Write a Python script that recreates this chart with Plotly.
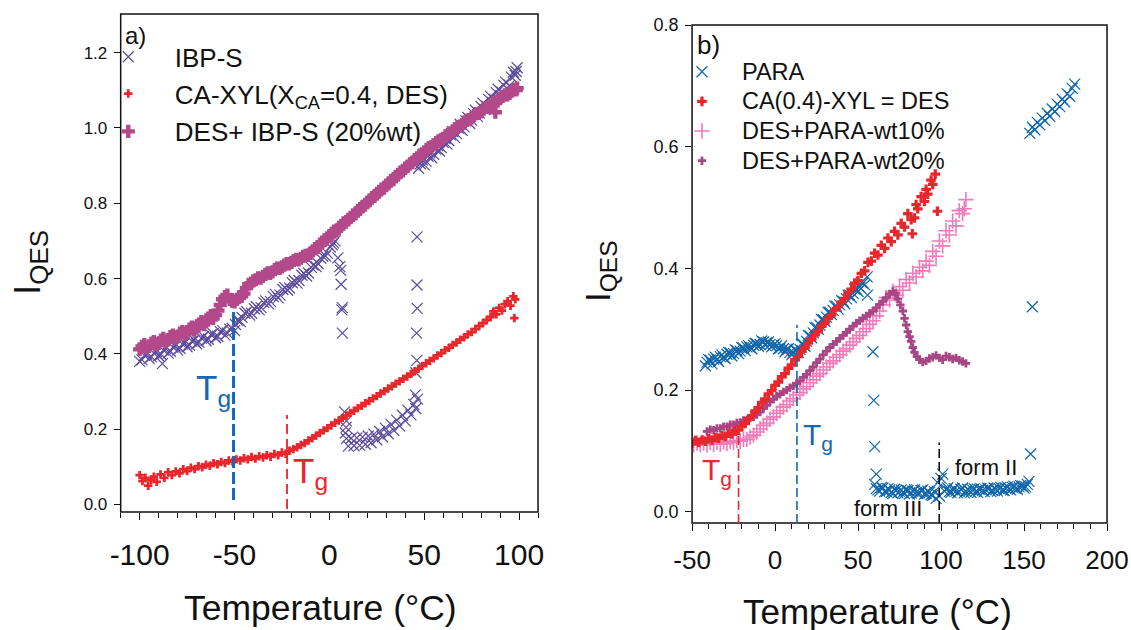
import plotly.graph_objects as go

# ---------------- panel a) ----------------
# IBP-S: glassy branch (two interleaved sweeps), crystallisation drop, crystal branch, melting, liquid branch
ibp_low_t = [-100, -97.5, -95, -92.5, -90, -88, -87.5, -85, -82.5, -80, -77.5, -75, -72.5, -70, -67.5, -65,
             -62.5, -60, -57.5, -55, -52.5, -50, -48.5, -46, -43.5, -41, -38.5, -36, -33.5, -31, -28.5, -26,
             -23.5, -21, -18.5, -16, -13.5, -11, -8.5, -6, -3.5, -1, 1.5, 3]
ibp_low_i = [0.380, 0.396, 0.388, 0.402, 0.395, 0.374, 0.410, 0.402, 0.418, 0.410, 0.426, 0.419, 0.434, 0.427,
             0.442, 0.435, 0.451, 0.443, 0.459, 0.450, 0.466, 0.462, 0.490, 0.497, 0.512, 0.508, 0.526, 0.523,
             0.541, 0.539, 0.558, 0.556, 0.576, 0.575, 0.595, 0.595, 0.614, 0.615, 0.636, 0.640, 0.660, 0.667,
             0.690, 0.700]
ibp_low2_t = [-98.75, -96.25, -93.75, -91.25, -88.75, -86.25, -83.75, -81.25, -78.75, -76.25, -73.75, -71.25,
              -68.75, -66.25, -63.75, -61.25, -58.75, -56.25, -53.75, -51.25, -49.5, -47, -44.5, -42, -39.5, -37,
              -34.5, -32, -29.5, -27, -24.5, -22, -19.5, -17, -14.5, -12, -9.5, -7, -4.5, -2, 0.5, 2.2]
ibp_low2_i = [0.384, 0.399, 0.392, 0.406, 0.399, 0.414, 0.407, 0.421, 0.415, 0.429, 0.423, 0.437, 0.431, 0.446,
              0.439, 0.454, 0.447, 0.462, 0.455, 0.468, 0.478, 0.486, 0.508, 0.503, 0.520, 0.517, 0.536, 0.533,
              0.552, 0.549, 0.571, 0.569, 0.589, 0.588, 0.609, 0.607, 0.630, 0.632, 0.654, 0.660, 0.684, 0.695]
ibp_drop_t = [4.5, 5.5, 6.0, 6.2, 6.8, 6.6, 6.9, 8.0, 9.0, 8.8, 8.4]
ibp_drop_i = [0.655, 0.632, 0.622, 0.585, 0.523, 0.517, 0.455, 0.246, 0.222, 0.205, 0.190]
ibp_cry_t = [9, 10, 11.5, 13, 14.5, 16, 17.5, 19, 20.5, 22, 23.5, 25, 26.5, 28, 29.5, 31, 32.5, 34, 35.5, 37,
             38.5, 40, 41.5, 43, 44.5, 45.5, 46.5]
ibp_cry_i = [0.175, 0.155, 0.176, 0.156, 0.177, 0.157, 0.179, 0.160, 0.182, 0.164, 0.187, 0.172, 0.194, 0.180,
             0.203, 0.188, 0.213, 0.197, 0.224, 0.209, 0.237, 0.222, 0.250, 0.238, 0.266, 0.255, 0.280]
ibp_melt_t = [45.3, 45.6, 46.1, 46.0, 46.3, 46.2, 46.2]
ibp_melt_i = [0.291, 0.350, 0.383, 0.455, 0.521, 0.583, 0.711]
ibp_liq_t = [47, 49, 51, 53, 55, 57, 59, 61, 63, 65, 67, 69, 71, 73, 75, 77, 79, 81, 83, 85, 87, 89, 91, 93,
             95, 97, 98.5]
ibp_liq_i = [0.893, 0.915, 0.912, 0.934, 0.930, 0.953, 0.948, 0.972, 0.966, 0.990, 0.985, 1.010, 1.003, 1.028,
             1.021, 1.047, 1.040, 1.066, 1.058, 1.084, 1.076, 1.103, 1.095, 1.122, 1.113, 1.148, 1.150]
ibp_liq2_t = [48, 50, 52, 54, 56, 58, 60, 62, 64, 66, 68, 70, 72, 74, 76, 78, 80, 82, 84, 86, 88, 90, 92, 94,
              96, 98, 99]
ibp_liq2_i = [0.905, 0.902, 0.925, 0.921, 0.944, 0.939, 0.962, 0.957, 0.981, 0.975, 1.000, 0.994, 1.019, 1.012,
              1.038, 1.031, 1.057, 1.049, 1.076, 1.068, 1.094, 1.086, 1.113, 1.104, 1.135, 1.140, 1.160]

# CA-XYL (X_CA = 0.4, DES)
des_a_t = [-100, -98.5, -97, -95.5, -94, -92.5, -91, -89, -87, -85, -83, -81, -79, -77, -75, -73, -71, -69,
           -67, -65, -63, -61, -59, -57, -55, -53, -51, -49, -47, -45, -43, -41, -39, -37, -35, -33, -31, -29,
           -27, -25, -23, -21, -19, -17, -15, -13, -11, -9, -7, -5, -3, -1, 1, 3, 5, 7, 9, 11, 13, 15, 17, 19,
           21, 23, 25, 27, 29, 31, 33, 35, 37, 39, 41, 43, 45, 47, 49, 51, 53, 55, 57, 59, 61, 63, 65, 67, 69,
           71, 73, 75, 77, 79, 81, 83, 85, 86.5, 88, 89.5, 91, 92.5, 94, 95.5, 97, 98, 97.5]
des_a_i = [0.078, 0.062, 0.071, 0.050, 0.065, 0.074, 0.060, 0.080, 0.071, 0.086, 0.078, 0.088, 0.083, 0.094,
           0.089, 0.098, 0.094, 0.102, 0.099, 0.106, 0.103, 0.110, 0.107, 0.113, 0.110, 0.117, 0.114, 0.120,
           0.117, 0.123, 0.120, 0.126, 0.122, 0.128, 0.125, 0.131, 0.127, 0.134, 0.131, 0.138, 0.135, 0.143,
           0.147, 0.152, 0.158, 0.163, 0.170, 0.176, 0.183, 0.190, 0.197, 0.203, 0.210, 0.217, 0.223, 0.230,
           0.236, 0.243, 0.249, 0.256, 0.262, 0.269, 0.275, 0.282, 0.288, 0.295, 0.301, 0.308, 0.314, 0.321,
           0.327, 0.334, 0.340, 0.347, 0.354, 0.361, 0.368, 0.375, 0.382, 0.388, 0.396, 0.402, 0.410, 0.416,
           0.424, 0.430, 0.438, 0.444, 0.452, 0.458, 0.466, 0.474, 0.482, 0.490, 0.498, 0.513, 0.505, 0.522,
           0.515, 0.532, 0.540, 0.528, 0.553, 0.545, 0.495]

# DES + IBP-S (20 %wt), two interleaved sweeps
mix_a_t = [-100, -97.5, -95, -92.5, -90, -87.5, -85, -82.5, -80, -77.5, -75, -72.5, -70, -67.5, -65, -62.5,
           -60, -57.5, -55, -52.5, -50, -47.5, -45, -42.5, -40, -37.5, -35, -32.5, -30, -27.5, -25, -22.5, -20,
           -17.5, -15, -12.5, -10, -7.5, -5, -2.5, 0, 2.5, 5, 7.5, 10, 12.5, 15, 17.5, 20, 22.5, 25, 27.5, 30,
           32.5, 35, 37.5, 40, 42.5, 45, 47.5, 50, 52.5, 55, 57.5, 60, 62.5, 65, 67.5, 70, 72.5, 75, 77.5, 80,
           82.5, 85, 87.5, 88, 90, 92.5, 95, 97.5, 99]
mix_a_i = [0.412, 0.425, 0.420, 0.433, 0.428, 0.441, 0.437, 0.450, 0.446, 0.459, 0.457, 0.471, 0.470, 0.486,
           0.485, 0.502, 0.503, 0.530, 0.552, 0.545, 0.538, 0.552, 0.560, 0.585, 0.594, 0.602, 0.606, 0.615,
           0.618, 0.628, 0.631, 0.640, 0.643, 0.651, 0.654, 0.662, 0.667, 0.680, 0.689, 0.703, 0.712, 0.726,
           0.733, 0.748, 0.756, 0.769, 0.779, 0.792, 0.802, 0.815, 0.824, 0.838, 0.847, 0.860, 0.870, 0.883,
           0.893, 0.905, 0.915, 0.928, 0.936, 0.948, 0.955, 0.966, 0.972, 0.984, 0.992, 1.003, 1.010, 1.021,
           1.027, 1.038, 1.043, 1.055, 1.060, 1.042, 1.070, 1.078, 1.088, 1.092, 1.103, 1.106]
mix_a2_t = [-98.75, -96.25, -93.75, -91.25, -88.75, -86.25, -83.75, -81.25, -78.75, -76.25, -73.75, -71.25,
            -68.75, -66.25, -63.75, -61.25, -58.75, -56.25, -53.75, -51.25, -48.75, -46.25, -43.75, -41.25,
            -38.75, -36.25, -33.75, -31.25, -28.75, -26.25, -23.75, -21.25, -18.75, -16.25, -13.75, -11.25,
            -8.75, -6.25, -3.75, -1.25, 1.25, 3.75, 6.25, 8.75, 11.25, 13.75, 16.25, 18.75, 21.25, 23.75, 26.25,
            28.75, 31.25, 33.75, 36.25, 38.75, 41.25, 43.75, 46.25, 48.75, 51.25, 53.75, 56.25, 58.75, 61.25,
            63.75, 66.25, 68.75, 71.25, 73.75, 76.25, 78.75, 81.25, 83.75, 86.25, 88.75, 91.25, 93.75, 96.25,
            98.5]
mix_a2_i = [0.420, 0.416, 0.429, 0.424, 0.437, 0.433, 0.446, 0.442, 0.455, 0.452, 0.466, 0.463, 0.479, 0.478,
            0.495, 0.494, 0.515, 0.545, 0.556, 0.540, 0.545, 0.553, 0.575, 0.588, 0.597, 0.601, 0.611, 0.614,
            0.624, 0.627, 0.636, 0.639, 0.648, 0.650, 0.659, 0.662, 0.674, 0.683, 0.697, 0.705, 0.720, 0.727,
            0.741, 0.750, 0.763, 0.772, 0.786, 0.795, 0.809, 0.818, 0.832, 0.840, 0.854, 0.863, 0.877, 0.886,
            0.899, 0.908, 0.921, 0.930, 0.943, 0.950, 0.961, 0.967, 0.979, 0.986, 0.998, 1.005, 1.016, 1.022,
            1.033, 1.039, 1.050, 1.055, 1.066, 1.072, 1.084, 1.088, 1.098, 1.101]

# glass transitions marked in panel a): (temperature, top of dashed marker)
tg_a_blue = [-50.5, 0.518]
tg_a_red = [-22.3, 0.238]

# ---------------- panel b) ----------------
para_t = [-42, -40, -38, -36, -34, -32, -30, -28, -26, -24, -22, -20, -18, -16, -14, -12, -10, -8, -6, -4, -2,
          0, 2, 4, 6, 8, 10, 12, 14, 16, 18, 20, 22, 24, 26, 28, 30, 32, 34, 36, 38, 40, 42, 44, 46, 48, 50, 52,
          54, 55.5, 55.7,
          59, 59.5, 60, 61,
          60, 62, 64, 66, 68, 70, 72, 74, 76, 78, 80, 82, 84, 86, 88, 90, 92, 94, 96, 97, 98, 99, 100, 101, 102,
          104, 106, 108, 110, 112, 114, 116, 118, 120, 122, 124, 126, 128, 130, 132, 134, 136, 138, 140, 142,
          144, 146, 148, 150, 152, 153, 154, 155,
          153.5, 155, 156.5, 158, 159.5, 161, 162.5, 164, 165.5, 167, 168.5, 170, 171.5, 173, 174.5, 176, 177.5,
          179, 180.5]
para_i = [0.240, 0.250, 0.243, 0.254, 0.247, 0.258, 0.252, 0.262, 0.256, 0.266, 0.260, 0.270, 0.265, 0.273,
          0.268, 0.277, 0.272, 0.281, 0.274, 0.279, 0.271, 0.276, 0.268, 0.273, 0.263, 0.268, 0.258, 0.266,
          0.262, 0.276, 0.272, 0.290, 0.286, 0.303, 0.300, 0.316, 0.313, 0.328, 0.324, 0.338, 0.333, 0.347,
          0.342, 0.356, 0.352, 0.366, 0.362, 0.377, 0.373, 0.386, 0.356,
          0.263, 0.183, 0.107, 0.062,
          0.045, 0.036, 0.040, 0.033, 0.038, 0.032, 0.037, 0.031, 0.036, 0.030, 0.035, 0.031, 0.036, 0.030,
          0.035, 0.029, 0.034, 0.028, 0.033, 0.022, 0.048, 0.026, 0.055, 0.062, 0.034, 0.039, 0.032, 0.038,
          0.031, 0.037, 0.031, 0.037, 0.032, 0.038, 0.032, 0.038, 0.033, 0.039, 0.033, 0.039, 0.034, 0.040,
          0.035, 0.041, 0.036, 0.042, 0.037, 0.043, 0.039, 0.045, 0.050, 0.095, 0.337,
          0.622, 0.632, 0.628, 0.640, 0.636, 0.647, 0.643, 0.655, 0.650, 0.662, 0.658, 0.670, 0.666, 0.678,
          0.674, 0.687, 0.683, 0.696, 0.703]
para2_t = [-41, -39, -37, -35, -33, -31, -29, -27, -25, -23, -21, -19, -17, -15, -13, -11, -9, -7, -5, -3, -1,
           1, 3, 5, 7, 9, 11, 13, 15, 17, 19, 21, 23, 25, 27, 29, 31, 33, 35, 37, 39, 41, 43, 45, 47, 49, 51, 53,
           61, 63, 65, 67, 69, 71, 73, 75, 77, 79, 81, 83, 85, 87, 89, 91, 93, 95, 103, 105, 107, 109, 111, 113,
           115, 117, 119, 121, 123, 125, 127, 129, 131, 133, 135, 137, 139, 141, 143, 145, 147, 149, 151]
para2_i = [0.246, 0.249, 0.251, 0.251, 0.255, 0.254, 0.259, 0.261, 0.260, 0.265, 0.264, 0.269, 0.271, 0.270,
           0.274, 0.276, 0.275, 0.279, 0.278, 0.275, 0.274, 0.273, 0.269, 0.268, 0.267, 0.262, 0.262, 0.265,
           0.267, 0.275, 0.280, 0.289, 0.294, 0.303, 0.307, 0.316, 0.320, 0.328, 0.331, 0.338, 0.340, 0.346,
           0.350, 0.356, 0.359, 0.366, 0.369, 0.376,
           0.038, 0.034, 0.039, 0.033, 0.036, 0.030, 0.035, 0.033, 0.032, 0.036, 0.029, 0.034, 0.032, 0.031,
           0.036, 0.030, 0.032, 0.027, 0.037, 0.033, 0.036, 0.034, 0.033, 0.039, 0.033, 0.035, 0.036, 0.034,
           0.037, 0.035, 0.036, 0.038, 0.035, 0.037, 0.038, 0.036, 0.039, 0.038, 0.040, 0.039, 0.041, 0.042,
           0.041]

des_b_t = [-50, -48, -46, -44, -42, -40, -38, -36, -34, -32, -30, -28, -26, -24, -22, -20, -18, -16, -14, -12,
           -10, -8, -6, -4, -2, 0, 2, 4, 6, 8, 10, 12, 14, 16, 18, 20, 22, 24, 26, 28, 30, 32, 34, 36, 38, 40,
           42, 44, 46, 48, 50, 52, 54, 56, 58, 60, 62, 64, 66, 68, 70, 72, 74, 76, 78, 80, 82, 82.7, 84, 85, 86,
           88, 90, 91, 92, 94, 95, 96.5, 97.8]
des_b_i = [0.113, 0.117, 0.114, 0.118, 0.116, 0.120, 0.118, 0.122, 0.121, 0.125, 0.124, 0.129, 0.128, 0.133,
           0.134, 0.141, 0.145, 0.153, 0.158, 0.166, 0.171, 0.180, 0.185, 0.194, 0.199, 0.208, 0.213, 0.222,
           0.227, 0.236, 0.241, 0.250, 0.255, 0.264, 0.269, 0.278, 0.283, 0.291, 0.296, 0.305, 0.310, 0.318,
           0.323, 0.332, 0.337, 0.345, 0.351, 0.360, 0.366, 0.376, 0.380, 0.392, 0.396, 0.410, 0.412, 0.425,
           0.422, 0.438, 0.433, 0.450, 0.444, 0.461, 0.455, 0.474, 0.468, 0.490, 0.480, 0.457, 0.483, 0.505,
           0.498, 0.518, 0.510, 0.530, 0.522, 0.545, 0.538, 0.555, 0.494]

wt10_t = [-49, -47, -45, -43, -41, -39, -37, -35, -33, -31, -29, -27, -25, -23, -21, -19, -17, -15, -13, -11,
          -9, -7, -5, -3, -1, 1, 3, 5, 7, 9, 11, 13, 15, 17, 19, 21, 23, 25, 27, 29, 31, 33, 35, 37, 39, 41, 43,
          45, 47, 49, 51, 53, 55, 57, 59, 61, 63, 65, 67, 69, 71, 73, 75, 77, 79, 81, 83, 85, 87, 89, 91, 93, 95,
          97, 99, 101, 103, 105, 107, 109, 111, 113, 115, 114]
wt10_i = [0.110, 0.113, 0.110, 0.113, 0.110, 0.114, 0.111, 0.114, 0.111, 0.115, 0.112, 0.116, 0.114, 0.117,
          0.116, 0.119, 0.119, 0.123, 0.126, 0.131, 0.136, 0.142, 0.146, 0.152, 0.156, 0.162, 0.166, 0.172,
          0.176, 0.182, 0.186, 0.192, 0.196, 0.202, 0.206, 0.212, 0.217, 0.223, 0.227, 0.233, 0.238, 0.244,
          0.248, 0.254, 0.258, 0.264, 0.268, 0.274, 0.279, 0.285, 0.290, 0.296, 0.301, 0.308, 0.314, 0.322,
          0.330, 0.340, 0.352, 0.348, 0.362, 0.356, 0.370, 0.364, 0.382, 0.376, 0.392, 0.386, 0.402, 0.396,
          0.412, 0.405, 0.428, 0.420, 0.445, 0.437, 0.462, 0.455, 0.478, 0.470, 0.495, 0.490, 0.513, 0.498]

wt20_t = [-41, -39, -37, -35, -33, -31, -29, -27, -25, -23, -21, -19, -17, -15, -13, -11, -9, -7, -5, -3, -1, 1,
          3, 5, 7, 9, 11, 13, 15, 17, 19, 21, 23, 25, 27, 29, 31, 33, 35, 37, 39, 41, 43, 45, 47, 49, 51, 53, 55,
          57, 59, 61, 63, 65, 67, 69, 71, 72.5, 74, 75.5, 77, 78, 79, 80, 81, 82, 83, 84, 85.5, 87, 89, 91, 93,
          95, 97, 99, 101, 103, 105, 107, 109, 111, 113, 115]
wt20_i = [0.132, 0.135, 0.134, 0.137, 0.137, 0.140, 0.140, 0.143, 0.143, 0.146, 0.147, 0.150, 0.151, 0.154,
          0.156, 0.160, 0.164, 0.170, 0.175, 0.181, 0.185, 0.190, 0.193, 0.197, 0.200, 0.204, 0.207, 0.211,
          0.215, 0.221, 0.226, 0.232, 0.238, 0.245, 0.251, 0.258, 0.264, 0.270, 0.275, 0.280, 0.285, 0.290,
          0.295, 0.300, 0.305, 0.310, 0.314, 0.318, 0.322, 0.326, 0.330, 0.335, 0.341, 0.346, 0.352, 0.358,
          0.362, 0.359, 0.350, 0.340, 0.330, 0.318, 0.307, 0.296, 0.288, 0.280, 0.270, 0.262, 0.255, 0.250,
          0.246, 0.248, 0.252, 0.254, 0.257, 0.253, 0.250, 0.256, 0.254, 0.251, 0.253, 0.249, 0.247, 0.244]

# dashed markers in panel b): (temperature, top of dashed marker)
tg_b_red = [-22, 0.131]
tg_b_blue = [13.2, 0.307]
form_b = [98.9, 0.114]

# tick positions and labels
xa_ticks = [-100, -50, 0, 50, 100]
xa_labels = ["-100", "-50", "0", "50", "100"]
xb_ticks = [-50, 0, 50, 100, 150, 200]
xb_labels = ["-50", "0", "50", "100", "150", "200"]

# ---------------- styling ----------------
PURPLE = "#5b4b9e"
RED = "#e8262b"
MAGENTA = "#b3498a"
BLUE = "#0f66aa"
PINK = "#f27ab9"
PLUM = "#a84685"
TG_BLUE = "#1468b3"
INK = "#111111"
FONT = "Arial, 'Liberation Sans', sans-serif"

fig = go.Figure()

# panel a traces
fig.add_trace(go.Scatter(
    x=ibp_low_t + ibp_low2_t + ibp_drop_t + ibp_cry_t + ibp_melt_t + ibp_liq_t + ibp_liq2_t,
    y=ibp_low_i + ibp_low2_i + ibp_drop_i + ibp_cry_i + ibp_melt_i + ibp_liq_i + ibp_liq2_i,
    mode="markers", name='<span style="font-size:26px">IBP-S</span>',
    marker=dict(symbol="x-thin-open", size=11, color=PURPLE, line=dict(width=1.2, color=PURPLE)),
    xaxis="x", yaxis="y", legend="legend", legendgroup="a1", legendrank=1))
fig.add_trace(go.Scatter(
    x=mix_a_t + mix_a2_t, y=mix_a_i + mix_a2_i, mode="markers",
    name='<span style="font-size:26px">DES+ IBP-S (20%wt)</span>',
    marker=dict(symbol="cross", size=11, color=MAGENTA, line=dict(width=0)),
    xaxis="x", yaxis="y", legend="legend", legendgroup="a2", legendrank=3))
fig.add_trace(go.Scatter(
    x=des_a_t, y=des_a_i, mode="markers",
    name='<span style="font-size:26px">CA-XYL(X<sub>CA</sub>=0.4, DES)</span>',
    marker=dict(symbol="cross", size=7, color=RED, line=dict(width=0)),
    xaxis="x", yaxis="y", legend="legend", legendgroup="a1", legendrank=2))

# panel b traces
fig.add_trace(go.Scatter(
    x=para_t + para2_t, y=para_i + para2_i, mode="markers", name='<span style="font-size:23.5px">PARA</span>',
    marker=dict(symbol="x-thin-open", size=11, color=BLUE, line=dict(width=1.2, color=BLUE)),
    xaxis="x2", yaxis="y2", legend="legend2", legendrank=1))
fig.add_trace(go.Scatter(
    x=wt10_t, y=wt10_i, mode="markers", name='<span style="font-size:23.5px">DES+PARA-wt10%</span>',
    marker=dict(symbol="cross-thin-open", size=11, color=PINK, line=dict(width=1.6, color=PINK)),
    xaxis="x2", yaxis="y2", legend="legend2", legendrank=3))
fig.add_trace(go.Scatter(
    x=wt20_t, y=wt20_i, mode="markers", name='<span style="font-size:23.5px">DES+PARA-wt20%</span>',
    marker=dict(symbol="cross", size=7, color=PLUM, line=dict(width=0)),
    xaxis="x2", yaxis="y2", legend="legend2", legendrank=4))
fig.add_trace(go.Scatter(
    x=des_b_t, y=des_b_i, mode="markers", name='<span style="font-size:23.5px">CA(0.4)-XYL = DES</span>',
    marker=dict(symbol="cross", size=8, color=RED, line=dict(width=0)),
    xaxis="x2", yaxis="y2", legend="legend2", legendrank=2))


def xaxis_style(domain, rng, ticks, labels, label_size, standoff, anchor):
    lo, hi = rng
    minor_vals = [v for v in range(int(lo), int(hi) + 1, 10) if v not in ticks]
    return dict(domain=domain, range=rng, anchor=anchor, automargin=False,
                tickmode="array", tickvals=ticks, ticktext=labels,
                ticks="outside", ticklen=7, tickwidth=1.3, tickcolor=INK,
                minor=dict(tickmode="array", tickvals=minor_vals, ticks="outside", ticklen=5,
                           tickwidth=1.1, tickcolor=INK, showgrid=False),
                showline=False, showgrid=False, zeroline=False,
                tickfont=dict(size=label_size, color=INK), ticklabelstandoff=standoff)


def yaxis_style(domain, rng, label_size, anchor):
    return dict(domain=domain, range=rng, anchor=anchor, automargin=False,
                tickmode="linear", tick0=0, dtick=0.2, tickformat=".1f",
                ticks="outside", ticklen=6, tickwidth=1.3, tickcolor=INK,
                showline=False, showgrid=False, zeroline=False,
                tickfont=dict(size=label_size, color=INK), ticklabelstandoff=3)


fig.update_layout(
    template="none",
    width=1131, height=630, margin=dict(l=0, r=0, t=0, b=0, pad=0),
    paper_bgcolor="white", plot_bgcolor="white",
    font=dict(family=FONT, color=INK),
    xaxis=xaxis_style([0.1067, 0.4757], [-110, 110], xa_ticks, xa_labels, 30, 9, "y"),
    yaxis=yaxis_style([0.1873, 0.9778], [-0.0199, 1.3028], 17, "x"),
    xaxis2=xaxis_style([0.6119, 0.9788], [-50, 200], xb_ticks, xb_labels, 26, 7, "y2"),
    yaxis2=yaxis_style([0.1698, 0.9603], [-0.0185, 0.8001], 18, "x2"),
    legend=dict(x=0.0723, y=0.9471, xanchor="left", yanchor="top", bgcolor="rgba(0,0,0,0)",
                borderwidth=0, font=dict(size=26, color=INK), itemwidth=83,
                traceorder="grouped", tracegroupgap=1),
    legend2=dict(x=0.5853, y=0.9176, xanchor="left", yanchor="top", bgcolor="rgba(0,0,0,0)",
                 borderwidth=0, font=dict(size=20.5, color=INK), itemwidth=70, traceorder="normal"),
    showlegend=True,
)

# plot frames
for xr, yr in (("x domain", "y domain"), ("x2 domain", "y2 domain")):
    fig.add_shape(type="rect", xref=xr, yref=yr, x0=0, x1=1, y0=0, y1=1,
                  line=dict(color=INK, width=1.5), fillcolor="rgba(0,0,0,0)", layer="above")

# dashed glass-transition / form markers
dash_lines = [
    ("x", "y", tg_a_blue, TG_BLUE, 3, "12px,4px", 0.012),
    ("x", "y", tg_a_red, RED, 1.8, "10px,5px", -0.012),
    ("x2", "y2", tg_b_red, RED, 1.6, "9px,4px", -0.0185),
    ("x2", "y2", tg_b_blue, TG_BLUE, 1.6, "9px,4px", -0.0185),
    ("x2", "y2", form_b, INK, 1.6, "9px,4px", -0.0185),
]
for xr, yr, (t, top), col, w, dash, bottom in dash_lines:
    fig.add_shape(type="line", xref=xr, yref=yr, x0=t, x1=t, y0=bottom, y1=top,
                  line=dict(color=col, width=w, dash=dash))

C = dict(xanchor="center", yanchor="middle", showarrow=False)
ann = []
# panel letters
ann.append(dict(text="a)", x=-109, y=1.246, xref="x", yref="y", xanchor="left", yanchor="middle",
                showarrow=False, font=dict(size=24, color=INK)))
ann.append(dict(text="b)", x=-48.5, y=0.768, xref="x2", yref="y2", xanchor="left", yanchor="middle",
                showarrow=False, font=dict(size=26, color=INK)))
# Tg and form labels
ann.append(dict(text="T<sub>g</sub>", x=-61.2, y=0.305, xref="x", yref="y",
                font=dict(size=35, color=TG_BLUE), **C))
ann.append(dict(text="T<sub>g</sub>", x=-10.1, y=0.085, xref="x", yref="y",
                font=dict(size=35, color=RED), **C))
ann.append(dict(text="T<sub>g</sub>", x=-34.7, y=0.067, xref="x2", yref="y2",
                font=dict(size=30, color=RED), **C))
ann.append(dict(text="T<sub>g</sub>", x=25.6, y=0.124, xref="x2", yref="y2",
                font=dict(size=30, color=TG_BLUE), **C))
ann.append(dict(text="form II", x=127.1, y=0.073, xref="x2", yref="y2",
                font=dict(size=22, color=INK), **C))
ann.append(dict(text="form III", x=68.1, y=0.005, xref="x2", yref="y2",
                font=dict(size=22, color=INK), **C))
# axis titles
ann.append(dict(text="Temperature (°C)", x=321 / 1131, y=1 - 608 / 630, xref="paper", yref="paper",
                font=dict(size=35.5, color=INK), **C))
ann.append(dict(text="Temperature (°C)", x=877 / 1131, y=1 - 611 / 630, xref="paper", yref="paper",
                font=dict(size=35, color=INK), **C))
ann.append(dict(text="I<sub>QES</sub>", x=30 / 1131, y=1 - 263 / 630, xref="paper", yref="paper",
                textangle=-90, font=dict(size=37, color=INK), **C))
ann.append(dict(text="I<sub>QES</sub>", x=600 / 1131, y=1 - 272 / 630, xref="paper", yref="paper",
                textangle=-90, font=dict(size=35, color=INK), **C))
fig.update_layout(annotations=ann)

fig.write_html("out.html")
